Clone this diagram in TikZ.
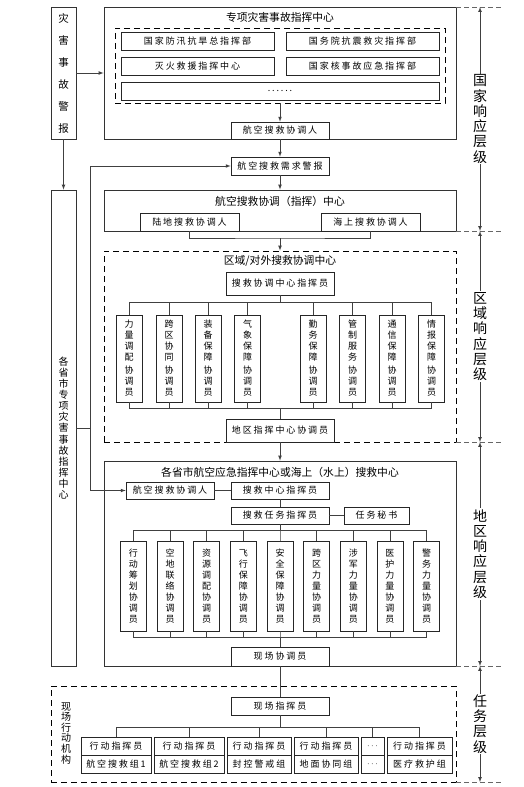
\documentclass[tikz,border=0pt]{standalone}
\usepackage{fontspec}
\setmainfont{Noto Sans CJK SC}
\newfontfamily\boxfont[LetterSpace=21]{Noto Sans CJK SC}
\begin{document}
\begin{tikzpicture}[x=1pt,y=-1pt,
  frame/.style={draw=black!80,line width=0.8pt,inner sep=0pt},
  dframe/.style={frame,draw=black,dash pattern=on 6pt off 4pt},
  box/.style={draw=black!85,line width=0.7pt,fill=white,inner sep=0pt,minimum height=18,font=\boxfont\fontsize{9}{10}\selectfont},
  vbox/.style={box,minimum width=26,align=center,font=\fontsize{9}{11}\selectfont},
  ttl/.style={inner sep=0pt,font=\fontsize{10.8}{13}\selectfont},
  vtxt/.style={inner sep=0pt,align=center},
  lvl/.style={fill=white,inner sep=1pt,align=center,font=\fontsize{14}{15.3}\selectfont},
  line/.style={draw=black!75,line width=0.7pt},
  guide/.style={draw=black!60,line width=0.8pt,dash pattern=on 5pt off 3pt}]
\useasboundingbox (0,0) rectangle (524,787);

\node[frame,vtxt,minimum width=25,minimum height=132,font=\fontsize{10.5}{22}\selectfont] (zhjb) at (63.5,73) {灾\\害\\事\\故\\警\\报};
\node[frame,vtxt,minimum width=25,minimum height=476,font=\fontsize{10}{11.1}\selectfont] (sszx) at (63.5,428) {各\\省\\市\\专\\项\\灾\\害\\事\\故\\指\\挥\\中\\心};
\coordinate (zd) at (90,428);

\node[frame,minimum width=352,minimum height=132] (zx) at (280,73) {};
\node[ttl] (zxt) at (280,17) {专项灾害事故指挥中心};
\node[dframe,minimum width=330,minimum height=75] (zxd) at (280,65.5) {};
\node[box,minimum width=153] (gjfx) at (197.5,41) {国家防汛抗旱总指挥部};
\node[box,minimum width=153] (gwy) at (362.5,41) {国务院抗震救灾指挥部};
\node[box,minimum width=153] (mhjy) at (197.5,66) {灭火救援指挥中心};
\node[box,minimum width=153] (gjhs) at (362.5,66) {国家核事故应急指挥部};
\node[box,minimum width=318] (more) at (280,91) {......};
\node[box,minimum width=98,minimum height=17] (xtr1) at (280,130.5) {航空搜救协调人};
\node[box,minimum width=98] (xqjb) at (280,166) {航空搜救需求警报};

\node[frame,minimum width=352,minimum height=41] (hkzx) at (280,210.5) {};
\node[ttl] (hkzxt) at (280,201) {航空搜救协调（指挥）中心};
\node[box,minimum width=99] (ldxt) at (189.5,222) {陆地搜救协调人};
\node[box,minimum width=99] (hsxt) at (370.5,222) {海上搜救协调人};
\coordinate (hj) at (280,238);

\node[dframe,minimum width=352,minimum height=191] (qy) at (280,346.5) {};
\node[ttl] (qyt) at (280,261) {区域/对外搜救协调中心};
\node[box,minimum width=108,minimum height=23] (xtzh) at (280,283.5) {搜救协调中心指挥员};
\node[box,minimum width=108,minimum height=23] (dqzh) at (280,430.5) {地区指挥中心协调员};

\node[frame,minimum width=352,minimum height=205] (dq) at (280,563.5) {};
\node[ttl] (dqt) at (280,472) {各省市航空应急指挥中心或海上（水上）搜救中心};
\node[box,minimum width=88,minimum height=17] (dqxt) at (170,490.5) {航空搜救协调人};
\node[box,minimum width=98,minimum height=17] (zxzh) at (280,490.5) {搜救中心指挥员};
\node[box,minimum width=98,minimum height=17] (rwzh) at (280,515.5) {搜救任务指挥员};
\node[box,minimum width=65,minimum height=17] (rwms) at (376.5,515.5) {任务秘书};
\node[box,minimum width=98,minimum height=19] (xcxt) at (280,656.5) {现场协调员};

\node[dframe,minimum width=405,minimum height=96] (xc) at (253.5,734) {};
\node[vtxt,font=\fontsize{10}{10.6}\selectfont] (xcjg) at (66,733) {现\\场\\行\\动\\机\\构};
\node[box,minimum width=98] (xczh) at (280,706) {现场指挥员};

\draw[line,-latex] (zhjb) -- (zx);
\draw[line,-latex] (zhjb) -- (sszx);
\draw[line] (sszx) -- (zd);
\draw[line,-latex] (zd) |- (xqjb);
\draw[line,-latex] (zd) |- (dqxt);
\draw[line,-latex] (zxd) -- (xtr1);
\draw[line,-latex] (xtr1) -- (xqjb);
\draw[line,-latex] (xqjb) -- (hkzx);
\draw[line] (ldxt.south) |- (hj) -| (hsxt.south);
\draw[line,-latex] (hj) -- (qy);
\draw[line,-latex] (dqzh) -- (dq);
\draw[line] (dqxt) -- (zxzh);
\draw[line] (zxzh) -- (rwzh);
\draw[line] (rwzh) -- (rwms);
\draw[line] (xcxt) -- (xczh);

\foreach \x/\ka/\kb/\kc/\kd [count=\i] in {129/力/量/调/配, 169/跨/区/协/同, 208/装/备/保/障, 247.5/气/象/保/障, 313/勤/务/保/障, 352.5/管/制/服/务, 392/通/信/保/障, 431.5/情/报/保/障} {
  \node[vbox,minimum height=87] (v\i) at (\x,358.5) {\ka\\\kb\\\kc\\\kd\\[2pt]协\\调\\员};
  \draw[line] (v\i.north) -- ++(0,-12) -| (xtzh.south);
  \draw[line] (v\i.south) -- ++(0,6) -| (dqzh.north);
}

\foreach \ka/\kb/\kc/\kd [count=\i] in {行/动/筹/划, 空/地/联/络, 资/源/调/配, 飞/行/保/障, 安/全/保/障, 跨/区/力/量, 涉/军/力/量, 医/护/力/量, 警/务/力/量} {
  \node[vbox,minimum height=90] (w\i) at ({280+(\i-5)*36.65},586) {\ka\\\kb\\\kc\\\kd\\协\\调\\员};
  \draw[line] (w\i.north) -- ++(0,-10) -| (rwzh.south);
  \draw[line] (w\i.south) -- ++(0,6) -| (xcxt.north);
}

\foreach \x/\w/\ta/\tb [count=\i] in {116/70/行动指挥员/航空搜救组1, 189/70/行动指挥员/航空搜救组2, 259/64/行动指挥员/封控警戒组, 326/64/行动指挥员/地面协同组, 372.5/23/$\cdots$/$\cdots$, 419.5/65/行动指挥员/医疗救护组} {
  \node[box,minimum width=\w] (c\i) at (\x,746) {\ta};
  \node[box,minimum width=\w] (d\i) at (\x,764) {\tb};
  \draw[line] (c\i.north) -- ++(0,-9) -| (xczh.south);
}

\foreach \y in {7,231,442,666,782}
  \draw[guide] (456,\y) -- (503,\y);
\coordinate (r0) at (480,7);
\coordinate (r1) at (480,231);
\coordinate (r2) at (480,442);
\coordinate (r3) at (480,666);
\coordinate (r4) at (480,782);
\draw[line,latex-latex] (r0) -- node[lvl] {国\\家\\响\\应\\层\\级} (r1);
\draw[line,latex-latex] (r1) -- node[lvl] {区\\域\\响\\应\\层\\级} (r2);
\draw[line,latex-latex] (r2) -- node[lvl] {地\\区\\响\\应\\层\\级} (r3);
\draw[line,latex-latex] (r3) -- node[lvl] {任\\务\\层\\级} (r4);
\end{tikzpicture}
\end{document}
